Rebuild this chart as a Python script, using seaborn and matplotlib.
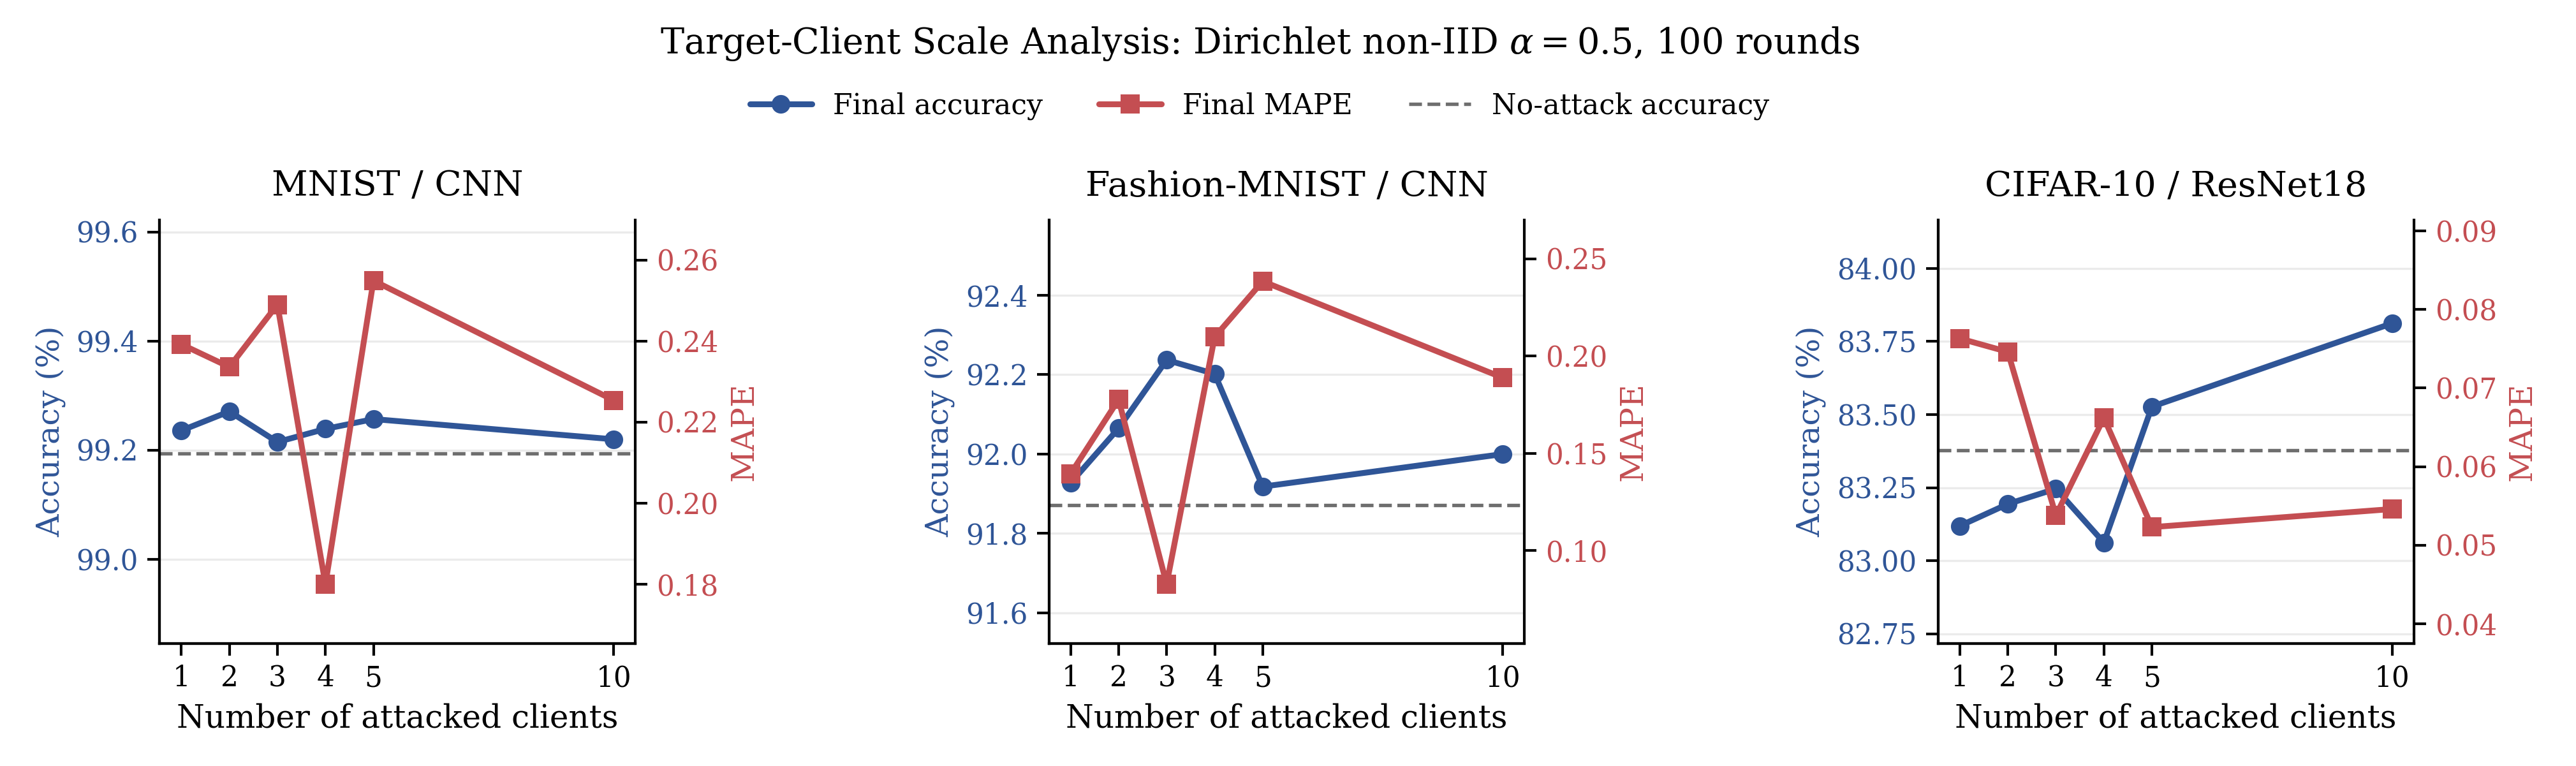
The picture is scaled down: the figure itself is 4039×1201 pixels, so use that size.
import seaborn as sns
import matplotlib.pyplot as plt
from matplotlib.ticker import MultipleLocator

clients = [1, 2, 3, 4, 5, 10]
titles = ["MNIST / CNN", "Fashion-MNIST / CNN", "CIFAR-10 / ResNet18"]

mnist_acc = [99.236, 99.271, 99.215, 99.239, 99.257, 99.220]
mnist_mape = [0.2392, 0.2336, 0.2490, 0.1800, 0.2549, 0.2254]
mnist_base = 99.194

fmnist_acc = [91.927, 92.065, 92.237, 92.202, 91.918, 92.000]
fmnist_mape = [0.1394, 0.1776, 0.0827, 0.2098, 0.2384, 0.1888]
fmnist_base = 91.872

cifar_acc = [83.119, 83.194, 83.246, 83.062, 83.527, 83.812]
cifar_mape = [0.0763, 0.0746, 0.0538, 0.0662, 0.0523, 0.0546]
cifar_base = 83.378

acc_lims = [(98.846, 99.622), (91.523, 92.59), (82.717, 84.166)]
mape_lims = [(0.1654, 0.2699), (0.0522, 0.270), (0.0375, 0.0914)]
acc_steps = [0.2, 0.2, 0.25]
mape_steps = [0.02, 0.05, 0.01]

BLUE = "#2F5597"
RED = "#C44E52"
GRAY = "#6E6E6E"

sns.set_theme(style="ticks", rc={
    "axes.linewidth": 1.0,
    "axes.edgecolor": "black",
    "axes.labelcolor": "black",
    "text.color": "black",
    "xtick.color": "black", "ytick.color": "black",
    "xtick.major.size": 4.5, "ytick.major.size": 4.5,
    "xtick.major.width": 1.0, "ytick.major.width": 1.0,
})
plt.rcParams["font.family"] = ["DejaVu Serif"]
plt.rcParams["mathtext.fontset"] = "dejavuserif"

fig, axes = plt.subplots(1, 3, figsize=(4039 / 300, 1201 / 300), dpi=300)
fig.subplots_adjust(left=0.062, right=0.937, top=0.713, bottom=0.160, wspace=0.87)

data = [(mnist_acc, mnist_mape, mnist_base),
        (fmnist_acc, fmnist_mape, fmnist_base),
        (cifar_acc, cifar_mape, cifar_base)]

for i, (ax, (acc, mape, base)) in enumerate(zip(axes, data)):
    ax2 = ax.twinx()
    sns.lineplot(x=clients, y=acc, ax=ax, color=BLUE, lw=2.2, marker="o",
                 markersize=7, markeredgewidth=0, label="Final accuracy", legend=False)
    sns.lineplot(x=clients, y=mape, ax=ax2, color=RED, lw=2.2, marker="s",
                 markersize=7, markeredgewidth=0, label="Final MAPE", legend=False)
    ax.axhline(base, color=GRAY, ls="--", lw=1.3, label="No-attack accuracy")

    ax.set_ylim(*acc_lims[i])
    ax2.set_ylim(*mape_lims[i])
    ax.yaxis.set_major_locator(MultipleLocator(acc_steps[i]))
    ax2.yaxis.set_major_locator(MultipleLocator(mape_steps[i]))
    ax.set_xticks(clients)
    ax.set_xlim(0.55, 10.45)

    ax.grid(axis="y", color="#EBEBEB", lw=0.8)
    ax.set_axisbelow(True)
    ax.tick_params(axis="y", colors="black", labelcolor=BLUE, labelsize=10.5)
    ax.tick_params(axis="x", labelsize=10.5)
    ax2.tick_params(axis="y", colors="black", labelcolor=RED, labelsize=10.5)
    ax.set_ylabel("Accuracy (%)", color=BLUE, fontsize=11.8)
    ax2.set_ylabel("MAPE", color=RED, fontsize=11.8)
    ax.set_xlabel("Number of attacked clients", fontsize=12)
    ax.set_title(titles[i], fontsize=13.3, pad=9)

    ax.spines["top"].set_visible(False)
    ax2.spines["top"].set_visible(False)
    ax.spines["right"].set_visible(False)

    if i == 0:
        h1, l1 = ax.get_legend_handles_labels()
        h2, l2 = ax2.get_legend_handles_labels()

handles = [h1[0], h2[0], h1[1]]
labels = [l1[0], l2[0], l1[1]]
fig.legend(handles, labels, loc="center", bbox_to_anchor=(0.489, 0.862), ncol=3,
           frameon=False, fontsize=10.6, handlelength=2.2, handletextpad=0.75,
           columnspacing=2.0)
fig.suptitle(r"Target-Client Scale Analysis: Dirichlet non-IID $\alpha = 0.5$, 100 rounds",
             x=0.489, y=0.943, va="center", fontsize=13.4)

fig.savefig("out.png", dpi=300)
